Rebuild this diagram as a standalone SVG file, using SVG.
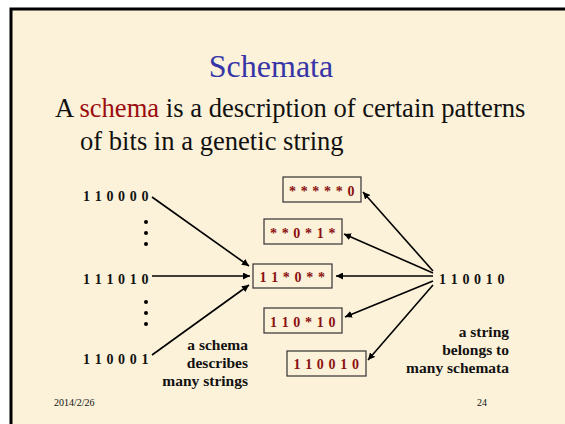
<svg xmlns="http://www.w3.org/2000/svg" width="565" height="424" viewBox="0 0 565 424" font-family="'Liberation Serif', 'Times New Roman', serif">
<defs>
<marker id="ah" viewBox="0 0 10 10" refX="10" refY="5" markerWidth="7" markerHeight="7" markerUnits="userSpaceOnUse" orient="auto">
<path d="M0,0 L10,5 L0,10 z" fill="#000"/>
</marker>
<style>
text{font-family:"Liberation Serif","Times New Roman",serif;}
.bits{font-size:14px;font-weight:bold;fill:#111;letter-spacing:0.6px;}
.sch{font-size:14px;font-weight:bold;fill:#8b1010;text-anchor:middle;letter-spacing:0.6px;}
.box{fill:#fcf1d9;stroke:#333;stroke-width:1.2;}
.note{font-size:15.5px;font-weight:bold;fill:#111;text-anchor:end;}
.con line{stroke:#000;stroke-width:1.6;marker-end:url(#ah);}
</style>
</defs>
<rect width="565" height="424" fill="#fff"/>
<rect x="11" y="9" width="560" height="420" fill="#fcf1d9"/>
<path d="M11,424 V9 H565" fill="none" stroke="#000" stroke-width="3"/>
<text x="271" y="77" font-size="32" fill="#3535a8" text-anchor="middle">Schemata</text>
<text x="55" y="117" font-size="26.6" fill="#111">A <tspan fill="#9b0d0d">schema</tspan> is a description of certain patterns</text>
<text x="80" y="150" font-size="26.6" fill="#111">of bits in a genetic string</text>
<g id="s110000"><text class="bits" x="83" y="201">1 1 0 0 0 0</text></g>
<g id="s111010"><text class="bits" x="83" y="284">1 1 1 0 1 0</text></g>
<g id="s110001"><text class="bits" x="83" y="364">1 1 0 0 0 1</text></g>
<g id="dots" fill="#000">
<circle cx="146" cy="222" r="2"/><circle cx="146" cy="233" r="2"/><circle cx="146" cy="244" r="2"/>
<circle cx="146" cy="302" r="2"/><circle cx="146" cy="313" r="2"/><circle cx="146" cy="324" r="2"/>
</g>
<g id="sch_center"><rect class="box" x="253" y="264" width="79" height="24"/><text class="sch" x="292.5" y="282">1 1 * 0 * *</text></g>
<g id="sch1"><rect class="box" x="283" y="177" width="78" height="25"/><text class="sch" x="322" y="196">* * * * * 0</text></g>
<g id="sch2"><rect class="box" x="264" y="219" width="78" height="25"/><text class="sch" x="303" y="238">* * 0 * 1 *</text></g>
<g id="sch3"><rect class="box" x="264" y="308" width="78" height="25"/><text class="sch" x="303" y="327">1 1 0 * 1 0</text></g>
<g id="sch4"><rect class="box" x="287" y="351" width="79" height="25"/><text class="sch" x="326.5" y="369">1 1 0 0 1 0</text></g>
<g id="s_right"><text class="bits" x="439" y="284">1 1 0 0 1 0</text></g>
<g class="con" id="connectors">
<line x1="152" y1="197" x2="249" y2="266"/>
<line x1="152" y1="276" x2="250" y2="276"/>
<line x1="152" y1="355" x2="249" y2="285"/>
<line x1="433" y1="271" x2="363" y2="192"/>
<line x1="433" y1="273" x2="344" y2="234"/>
<line x1="433" y1="276" x2="336" y2="276"/>
<line x1="433" y1="281" x2="345" y2="317"/>
<line x1="433" y1="285" x2="368" y2="360"/>
</g>
<g id="note_left"><text class="note" x="248" y="350">a schema</text><text class="note" x="248" y="368">describes</text><text class="note" x="248" y="386">many strings</text></g>
<g id="note_right"><text class="note" x="509" y="337">a string</text><text class="note" x="509" y="355">belongs to</text><text class="note" x="509" y="373">many schemata</text></g>
<text x="54" y="406" font-size="10" fill="#111">2014/2/26</text>
<text x="487" y="406" font-size="10" fill="#111" text-anchor="end">24</text>
</svg>
